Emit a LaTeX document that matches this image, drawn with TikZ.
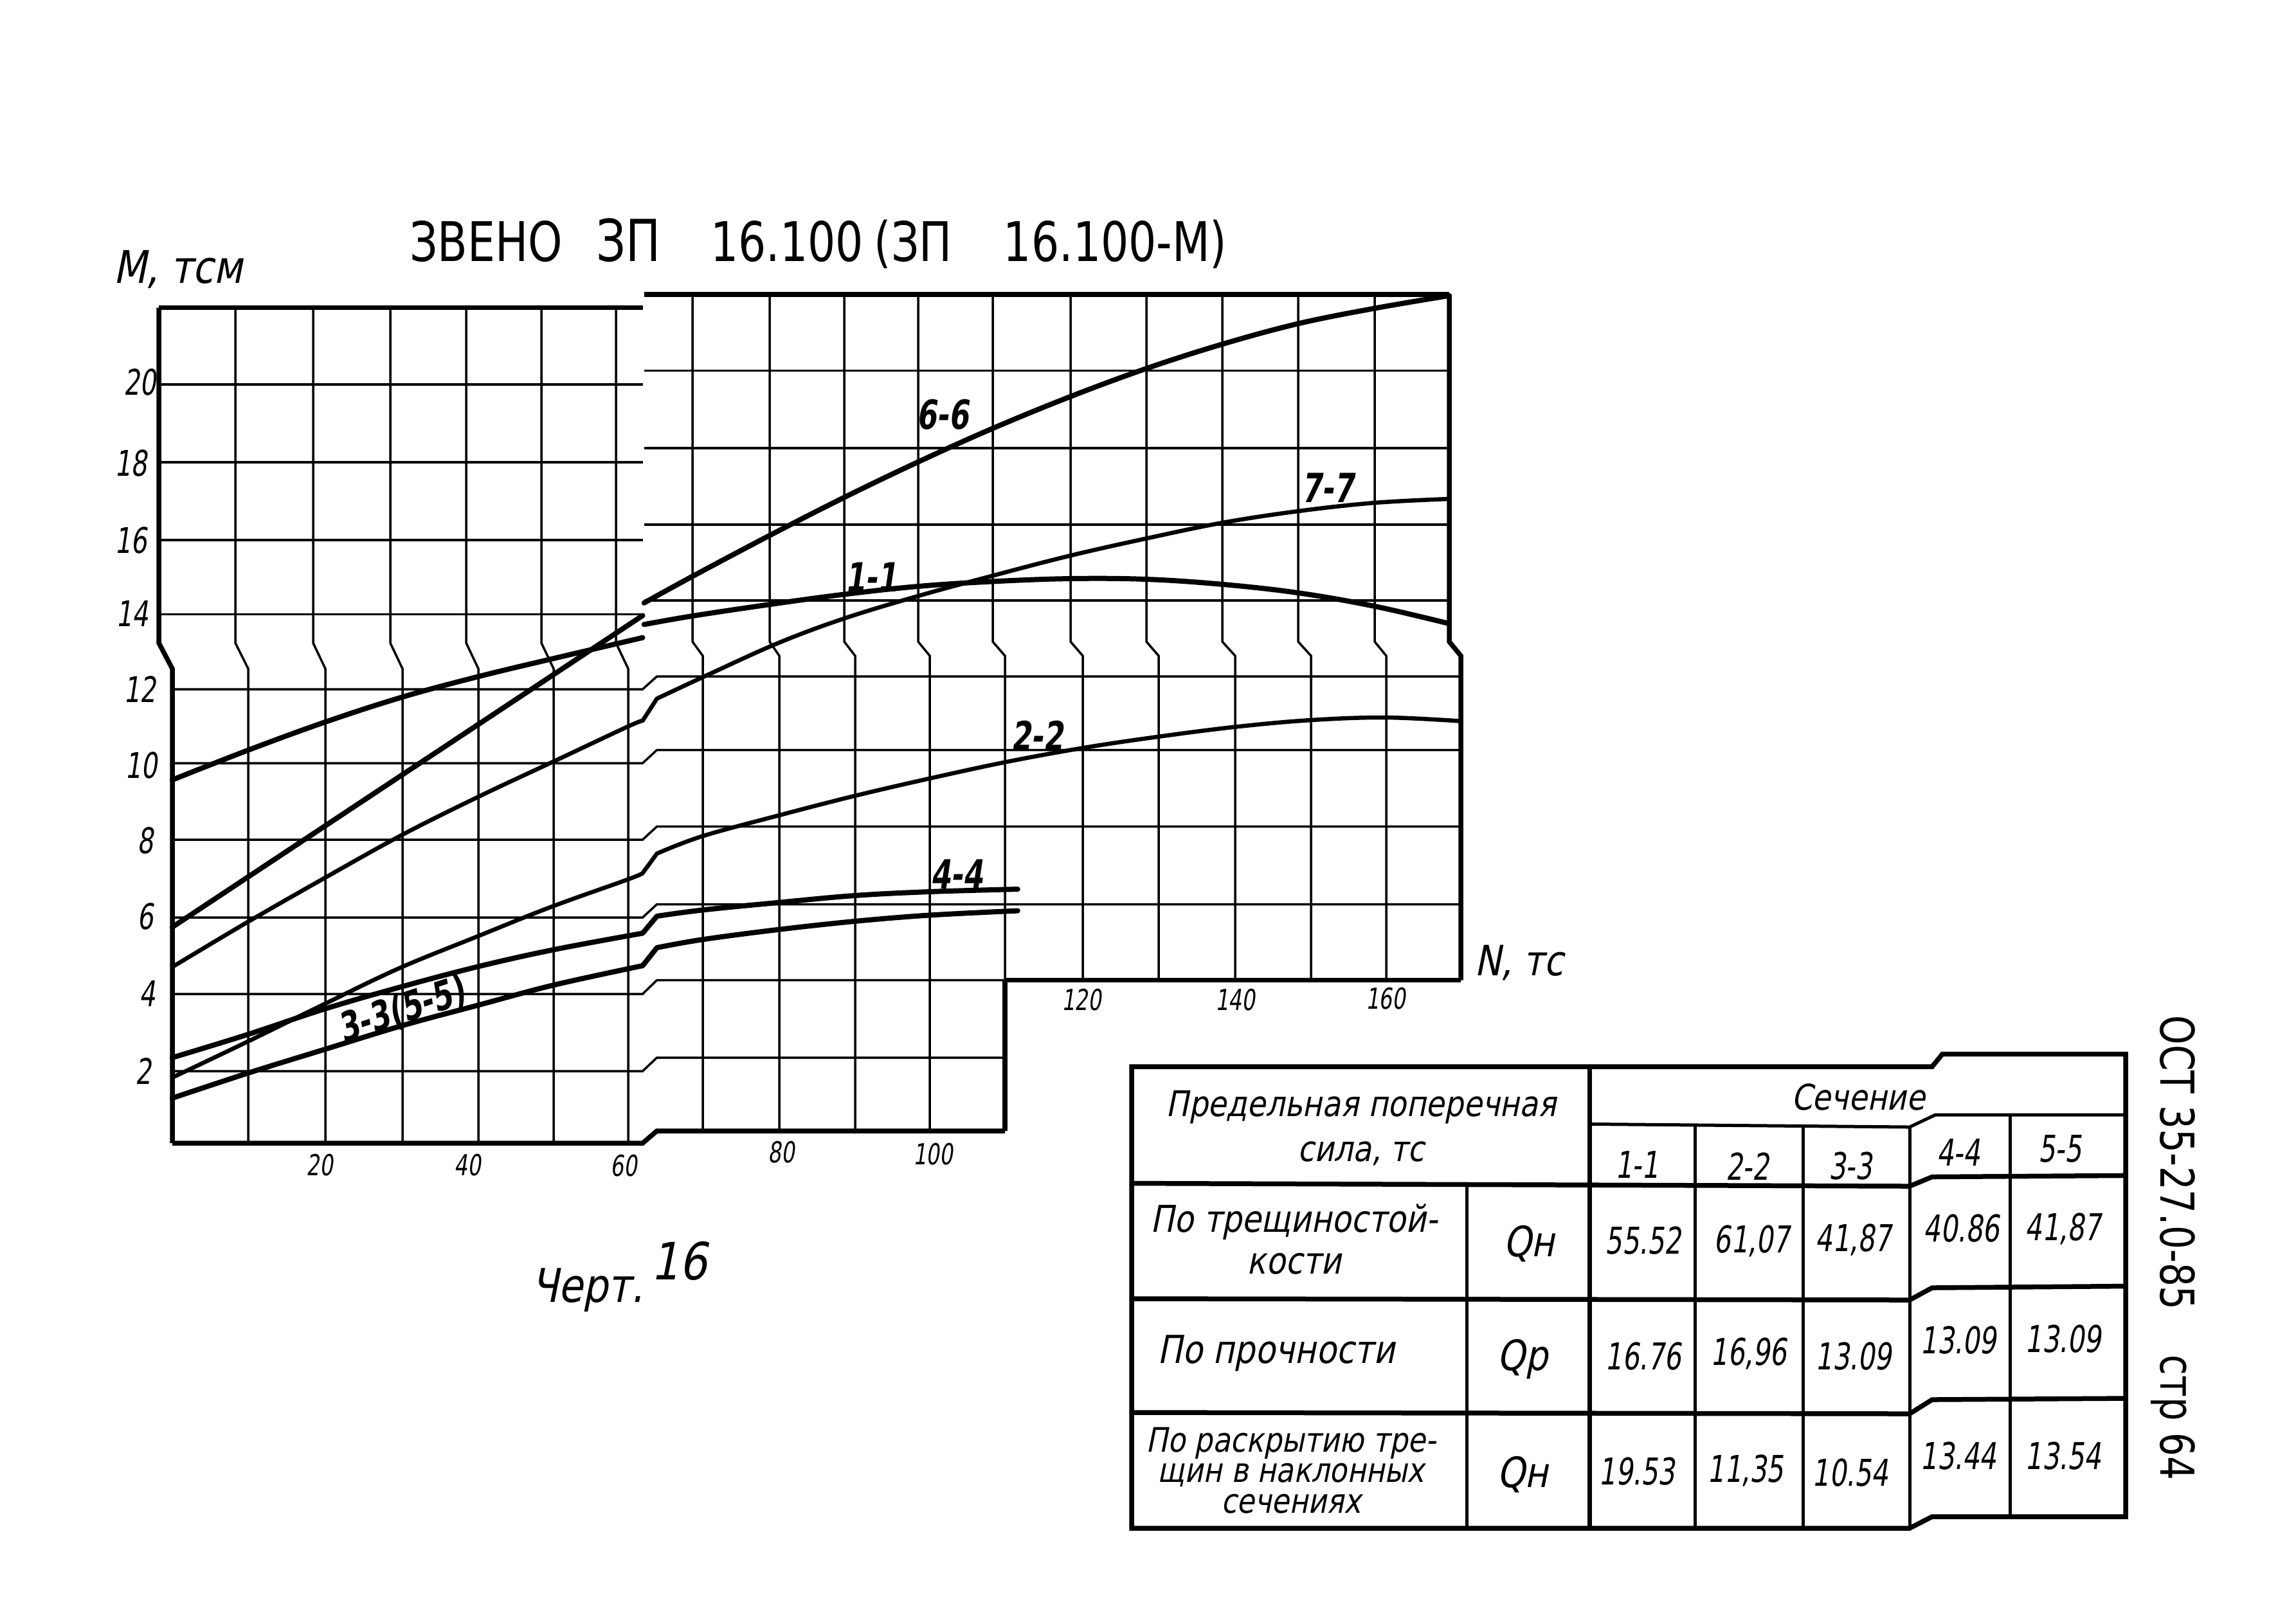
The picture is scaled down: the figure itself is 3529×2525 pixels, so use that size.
\documentclass[tikz,border=0pt]{standalone}
\usepackage{fontspec}
\newfontfamily\hwfont[FakeSlant=0.2,FakeStretch=0.85]{DejaVu Sans}
\newfontfamily\hwnum[FakeSlant=0.15,FakeStretch=0.72]{DejaVu Sans}
\newfontfamily\upnarrow[FakeStretch=0.8]{DejaVu Sans}
\begin{document}
\begin{tikzpicture}[x=0.2pt,y=-0.2pt,
  grd/.style={line width=0.7pt},
  brd/.style={line width=1.5pt},
  crv/.style={line width=1.6pt,line join=round,line cap=round},
  crvt/.style={line width=1.3pt,line join=round,line cap=round},
  tln/.style={line width=1.0pt},
  tbd/.style={line width=1.5pt},
  ylab/.style={font=\hwnum\fontsize{11}{13}\selectfont,inner sep=0pt,anchor=east},
  xlab/.style={font=\hwnum\fontsize{9}{11}\selectfont,inner sep=0pt},
  clab/.style={font=\hwnum\bfseries\fontsize{12.5}{14}\selectfont,inner sep=0pt},
  ttxt/.style={font=\hwfont\fontsize{11}{13}\selectfont,inner sep=0pt,align=center},
  tnum/.style={font=\hwnum\fontsize{11.5}{13}\selectfont,inner sep=0pt},
  qlab/.style={font=\hwfont\fontsize{13}{15}\selectfont,inner sep=0pt}]
\useasboundingbox (0,0) rectangle (3529,2525);
\fill[white] (0,0) rectangle (3529,2525);

% ---------- left grid ----------
\draw[brd] (247,478.6) -- (999.5,478.6);
\foreach \yy in {598,719,840,955.5} \draw[grd] (247,\yy) -- (999.5,\yy);
\draw[brd] (247,478.6) -- (247,1000) -- (268,1040) -- (268,1778);
\foreach \xu/\xl in {366/386,487/506,607/626,725/744,842/861,958/977}
  \draw[grd] (\xu,478.6) -- (\xu,1000) -- (\xl,1040) -- (\xl,1778);
\foreach \yl/\yr in {1072/1052,1187/1166.5,1306/1285.5,1427/1406.5}
  \draw[grd] (268,\yl) -- (999.5,\yl) -- (1021.7,\yr) -- (2272,\yr);
\draw[grd] (268,1546) -- (999.5,1546) -- (1021.7,1524.5) -- (1563,1524.5);
\draw[brd] (1563,1524.5) -- (2272,1524.5);
\draw[grd] (268,1666) -- (999.5,1666) -- (1021.7,1645) -- (1563,1645);
\draw[brd] (268,1778) -- (999.5,1778) -- (1021.7,1759) -- (1563,1759);

% ---------- right grid ----------
\draw[brd] (1001.7,458) -- (2254,458);
\foreach \yy in {576.5,697,816,934} \draw[grd] (1001.7,\yy) -- (2254,\yy);
\foreach \xu/\xl/\yb in {1077/1093/1759,1197/1212/1759,1313/1330/1759,1428/1446/1759,1544/1563/1524.5,1665/1684/1524.5,1783/1802/1524.5,1901/1921/1524.5,2019/2039/1524.5,2138/2156/1524.5}
  \draw[grd] (\xu,458) -- (\xu,998) -- (\xl,1020) -- (\xl,\yb);
\draw[brd] (1563,1524.5) -- (1563,1759);
\draw[brd] (2254,458) -- (2254,998) -- (2272,1020) -- (2272,1524.5);

% ---------- curves ----------
% 6-6
\draw[crv] (268,1442) -- (999.5,957.4);
\draw[crv] plot[smooth,tension=0.6] coordinates {(1001.7,937.8) (1077.4,896.2) (1198,832.3) (1313.3,773.5) (1427.9,718.5) (1544,666.3) (1664.6,616.9) (1783.4,573) (1901.4,535.2) (2019.4,503.3) (2138.2,479.5) (2254,459.8)};
% 1-1
\draw[crv] plot[smooth,tension=0.6] coordinates {(268,1213) (385.3,1167) (505.9,1123) (626.4,1084) (745.2,1052) (861.8,1024) (999.5,991.8)};
\draw[crv] plot[smooth,tension=0.6] coordinates {(1001.7,971.3) (1077.4,958) (1198,940) (1313.3,924.4) (1427.9,912) (1544,904.4) (1664.6,900) (1783.4,901) (1901.4,908.9) (2019.4,922.2) (2138.2,943) (2254,970)};
% 7-7
\draw[crvt] plot[smooth,tension=0.6] coordinates {(268,1504) (385.3,1434) (505.9,1365) (626.4,1298) (745.2,1238.7) (861.8,1184) (976.6,1130) (999.5,1121)}
  -- plot[smooth,tension=0.6] coordinates {(1021.7,1086.6) (1096.4,1051.7) (1208.3,1001) (1311.6,962.4) (1427.9,927) (1544,895.4) (1664.6,864.2) (1783.4,837.4) (1901.4,813) (2019.4,795) (2138.2,782) (2254,776)};
% 2-2
\draw[crvt] plot[smooth,tension=0.6] coordinates {(268,1676) (385.3,1620) (505.9,1561) (620.8,1506) (741.2,1457) (856,1411) (976.6,1367.8) (999.5,1358)}
  -- plot[smooth,tension=0.6] coordinates {(1021.7,1327.6) (1092,1300.7) (1208.3,1269) (1328.8,1238) (1445,1211) (1565.6,1185) (1686.2,1163) (1802.4,1145.7) (1922.9,1130.4) (2039.2,1120) (2155.4,1116) (2271.6,1121.6)};
% 4-4
\draw[crv] plot[smooth,tension=0.6] coordinates {(268,1645) (385.3,1609) (505.9,1569) (626.4,1534.2) (745.2,1503) (861.8,1477) (999.5,1451.5)}
  -- plot[smooth,tension=0.6] coordinates {(1021.7,1425) (1092,1415.5) (1208.3,1404) (1328.8,1393) (1445,1387) (1582.8,1383)};
% 3-3 (5-5)
\draw[crv] plot[smooth,tension=0.6] coordinates {(268,1708) (385.3,1669.2) (505.9,1631.9) (626.4,1595) (745.2,1563) (861.8,1532) (999.5,1502)}
  -- plot[smooth,tension=0.6] coordinates {(1021.7,1474) (1092,1461.4) (1208.3,1446.1) (1328.8,1433) (1445,1423.5) (1582.8,1416.6)};

% ---------- curve labels ----------
\node[clab] (l66) at (1466,645) {6-6};
\node[clab] (l77) at (2065,759) {7-7};
\node[clab] (l11) at (1355,898) {1-1};
\node[clab] (l22) at (1613,1144) {2-2};
\node[clab] (l44) at (1488,1360) {4-4};
\node[clab,rotate=18] (l33) at (625,1572) {3-3(5-5)};

% ---------- axes labels ----------
\node[ylab] (y20) at (244,594) {20};
\node[ylab] (y18) at (230,720) {18};
\node[ylab] (y16) at (230,840) {16};
\node[ylab] (y14) at (232,954) {14};
\node[ylab] (y12) at (244,1072) {12};
\node[ylab] (y10) at (246,1190) {10};
\node[ylab] (y8) at (240,1307) {8};
\node[ylab] (y6) at (240,1425) {6};
\node[ylab] (y4) at (243,1545) {4};
\node[ylab] (y2) at (237,1666) {2};
\node[xlab] (x20) at (497,1812) {20};
\node[xlab] (x40) at (727,1812) {40};
\node[xlab] (x60) at (970,1813) {60};
\node[xlab] (x80) at (1215,1792) {80};
\node[xlab] (x100) at (1451,1795) {100};
\node[xlab] (x120) at (1682,1555) {120};
\node[xlab] (x140) at (1921,1555) {140};
\node[xlab] (x160) at (2155,1553) {160};
\node[font=\hwfont\fontsize{14}{16}\selectfont,inner sep=0pt,anchor=base west] (mlab) at (175,440) {M, тсм};
\node[font=\hwfont\fontsize{13}{15}\selectfont,inner sep=0pt,anchor=base west] (nlab) at (2292,1517) {N, тс};

% ---------- title ----------
\node[font=\upnarrow\fontsize{17}{20}\selectfont,inner sep=0pt,anchor=base west] (title) at (636,406)
  {\makebox[58pt][l]{ЗВЕНО }\makebox[35.6pt][l]{\fontsize{18}{20}\selectfont ЗП }\makebox[51pt][l]{16.100 }\makebox[40.2pt][l]{(ЗП }16.100-М)};

% ---------- figure caption ----------
\node[font=\hwfont\fontsize{14.5}{16}\selectfont,inner sep=0pt,anchor=base west] (cap) at (825,2025)
  {Черт.\,\raisebox{7pt}{\fontsize{16}{18}\selectfont 16}};

% ---------- side text ----------
\node[font=\upnarrow\fontsize{14.5}{18}\selectfont,inner sep=0pt,rotate=-90] (ost) at (3380,1941)
  {ОСТ 35-27.0-85\hspace{14pt}стр 64};

% ---------- table ----------
\draw[tbd] (1760,1659) -- (3005,1659) -- (3021,1639.5) -- (3306,1639.5) -- (3306,2359) -- (3005,2359) -- (2970,2377) -- (1760,2377) -- cycle;
\draw[tln] (2472.6,1748.4) -- (2970,1753) -- (3010,1734) -- (3306,1734);
\draw[tbd] (1760,1840.5) -- (2970,1845) -- (3005,1830.5) -- (3306,1828.4);
\draw[tbd] (1760,2020) -- (2970,2022) -- (3005,2003) -- (3306,2000.5);
\draw[tbd] (1760,2197) -- (2970,2199) -- (3005,2177) -- (3306,2175);
\draw[tln] (2281,1840.5) -- (2281,2377);
\draw[tbd] (2472.6,1659) -- (2472.6,2377);
\draw[tln] (2636,1749) -- (2636,2377);
\draw[tln] (2804,1751) -- (2804,2377);
\draw[tln] (2970,1753) -- (2970,2377);
\draw[tln] (3126,1734) -- (3126,2359);

\node[ttxt] (hdr) at (2117,1755) {Предельная поперечная\\[1pt]сила, тс};
\node[ttxt] (sech) at (2890,1706) {Сечение};
\node[tnum] (c11) at (2546,1811) {1-1};
\node[tnum] (c22) at (2718,1814) {2-2};
\node[tnum] (c33) at (2878,1814) {3-3};
\node[tnum] (c44) at (3046,1792) {4-4};
\node[tnum] (c55) at (3204,1787) {5-5};

\node[ttxt,font=\hwfont\fontsize{11.5}{13}\selectfont] (r1) at (2013,1928) {По трещиностой-\\кости};
\node[ttxt,font=\hwfont\fontsize{12}{14}\selectfont] (r2) at (1985,2105) {По прочности};
\node[ttxt,font=\hwfont\fontsize{10.5}{9.5}\selectfont] (r3) at (2008,2287) {По раскрытию тре-\\щин в наклонных\\сечениях};
\node[qlab] (q1) at (2378,1935) {Qн};
\node[qlab] (q2) at (2368,2114) {Qр};
\node[qlab] (q3) at (2368,2294) {Qн};

\node[tnum] (v11) at (2556,1930) {55.52};
\node[tnum] (v12) at (2725,1930) {61,07};
\node[tnum] (v13) at (2883,1928) {41,87};
\node[tnum] (v14) at (3051,1911) {40.86};
\node[tnum] (v15) at (3209,1911) {41,87};
\node[tnum] (v21) at (2556,2110) {16.76};
\node[tnum] (v22) at (2720,2105) {16,96};
\node[tnum] (v23) at (2883,2110) {13.09};
\node[tnum] (v24) at (3046,2085) {13.09};
\node[tnum] (v25) at (3209,2083) {13.09};
\node[tnum] (v31) at (2546,2289) {19.53};
\node[tnum] (v32) at (2715,2287) {11,35};
\node[tnum] (v33) at (2878,2291) {10.54};
\node[tnum] (v34) at (3046,2265) {13.44};
\node[tnum] (v35) at (3209,2265) {13.54};
\end{tikzpicture}
\end{document}
